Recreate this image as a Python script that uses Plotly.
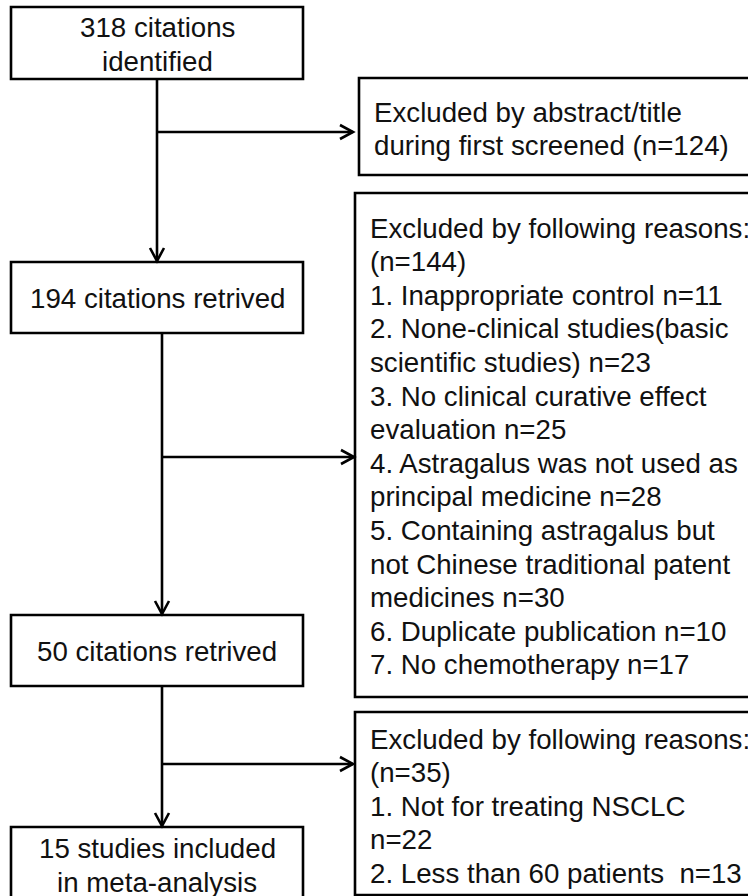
import plotly.graph_objects as go

# ---- content (flow-chart text) ----
step_counts = [318, 194, 50, 15]
excluded_counts = [124, 144, 35]

step_lines = [
    ["318 citations", "identified"],
    ["194 citations retrived"],
    ["50 citations retrived"],
    ["15 studies included", "in meta-analysis"],
]

excluded_lines = [
    ["Excluded by abstract/title", "during first screened (n=124)"],
    [
        "Excluded by following reasons:",
        "(n=144)",
        "1. Inappropriate control n=11",
        "2. None-clinical studies(basic",
        "scientific studies) n=23",
        "3. No clinical curative effect",
        "evaluation n=25",
        "4. Astragalus was not used as",
        "principal medicine n=28",
        "5. Containing astragalus but",
        "not Chinese traditional patent",
        "medicines n=30",
        "6. Duplicate publication n=10",
        "7. No chemotherapy n=17",
    ],
    [
        "Excluded by following reasons:",
        "(n=35)",
        "1. Not for treating NSCLC",
        "n=22",
        "2. Less than 60 patients\u00a0 n=13",
    ],
]

# ---- layout geometry (pixels, y downward) ----
W, H = 748, 896
FONT = dict(family="Liberation Sans, Arial, sans-serif", size=27.7, color="#111111")
LINE_H = 33.6
LW = 2.6

# left boxes: (x0, y0, x1, y1)
left_boxes = [(11, 7, 303, 79), (11, 262, 303, 333), (11, 615, 303, 686), (11, 827, 303, 910)]
left_first_line_y = [27, 298, 651, 848]

# right boxes
right_boxes = [(359, 78, 760, 175), (355, 193, 760, 697), (355, 712, 760, 895)]
right_text_x = [372, 368, 368]
right_first_line_y = [112, 228, 739]

# connectors: vertical segments (x, y_top, y_bottom) and branch y's
verticals = [(157, 79, 262), (162, 333, 615), (162, 686, 827)]
branches = [(157, 132, 354), (162, 457, 355), (162, 764, 354)]

shapes = []
annotations = []

def rect(b):
    shapes.append(dict(type="rect", xref="x", yref="y", x0=b[0], y0=b[1], x1=b[2], y1=b[3],
                       line=dict(color="black", width=LW), fillcolor="white", layer="below"))

def seg(x0, y0, x1, y1):
    shapes.append(dict(type="line", xref="x", yref="y", x0=x0, y0=y0, x1=x1, y1=y1,
                       line=dict(color="black", width=LW)))

def chevron_down(x, y):
    shapes.append(dict(type="path", xref="x", yref="y",
                       path=f"M {x-7},{y-13} L {x},{y} L {x+7},{y-13}",
                       line=dict(color="black", width=LW)))

def chevron_right(x, y):
    shapes.append(dict(type="path", xref="x", yref="y",
                       path=f"M {x-13},{y-7} L {x},{y} L {x-13},{y+7}",
                       line=dict(color="black", width=LW)))

for b in left_boxes + right_boxes:
    rect(b)

for (x, yt, yb) in verticals:
    seg(x, yt, x, yb - 1)
    chevron_down(x, yb - 1)

for (x, y, xt) in branches:
    seg(x, y, xt - 1, y)
    chevron_right(xt - 1, y)

for i, lines in enumerate(step_lines):
    cx = (left_boxes[i][0] + left_boxes[i][2]) / 2
    for j, t in enumerate(lines):
        annotations.append(dict(x=cx, y=left_first_line_y[i] + j * 34.5, xref="x", yref="y",
                                text=t, showarrow=False, xanchor="center", yanchor="middle",
                                font=FONT))

for i, lines in enumerate(excluded_lines):
    for j, t in enumerate(lines):
        annotations.append(dict(x=right_text_x[i], y=right_first_line_y[i] + j * LINE_H,
                                xref="x", yref="y", text=t, showarrow=False,
                                xanchor="left", yanchor="middle", font=FONT))

fig = go.Figure()
fig.update_layout(
    width=W, height=H,
    margin=dict(l=0, r=0, t=0, b=0),
    paper_bgcolor="white", plot_bgcolor="white",
    xaxis=dict(range=[0, W], visible=False, fixedrange=True),
    yaxis=dict(range=[H, 0], visible=False, fixedrange=True),
    shapes=shapes, annotations=annotations, showlegend=False,
)
fig.write_html(
    "out.html",
    config=dict(displayModeBar=False),
    post_script="document.body.style.margin='0';document.body.style.overflow='hidden';",
)
